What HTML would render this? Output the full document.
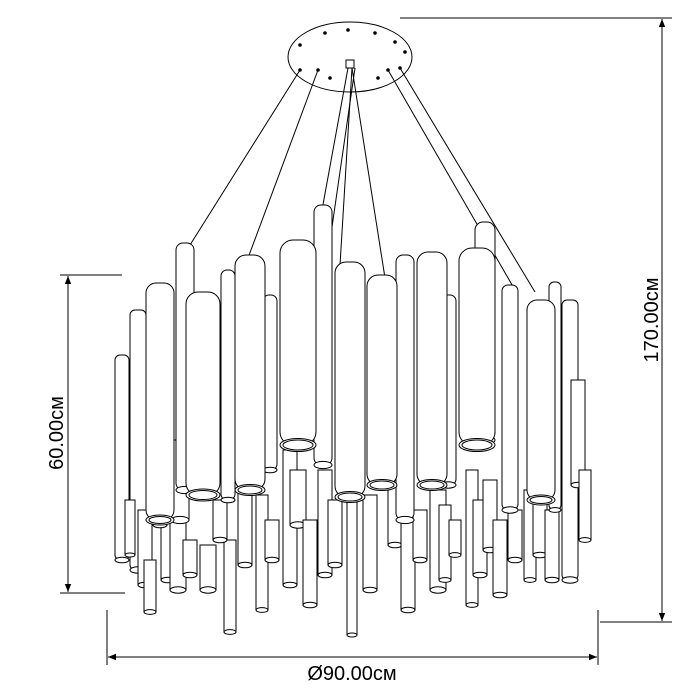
<!DOCTYPE html>
<html><head><meta charset="utf-8"><style>html,body{margin:0;background:#fff}svg{display:block}</style></head><body>
<svg width="700" height="700" viewBox="0 0 700 700" xmlns="http://www.w3.org/2000/svg" font-family="Liberation Sans, sans-serif">
<defs>
<marker id="a" viewBox="0 0 10 10" refX="10" refY="5" markerWidth="8" markerHeight="8" orient="auto-start-reverse"><path d="M0,1 L10,5 L0,9 z" fill="#000"/></marker>
</defs>
<rect width="700" height="700" fill="#fff"/>
<g stroke="#000" stroke-width="1" fill="none">
<ellipse cx="350" cy="57" rx="62" ry="35" fill="#fff"/>
<g fill="#000" stroke="none">
<circle cx="325" cy="33" r="1.8"/><circle cx="348" cy="30" r="1.8"/><circle cx="375" cy="33" r="1.8"/>
<circle cx="300" cy="45" r="1.8"/><circle cx="395" cy="42" r="1.8"/><circle cx="300" cy="70" r="1.8"/>
<circle cx="318" cy="70" r="1.8"/><circle cx="388" cy="70" r="1.8"/><circle cx="400" cy="68" r="1.8"/>
<circle cx="330" cy="78" r="1.8"/><circle cx="378" cy="78" r="1.8"/><circle cx="405" cy="52" r="1.8"/>
</g>
<rect x="346" y="60" width="8" height="8" fill="#fff"/>
<line x1="300" y1="70" x2="190" y2="245"/>
<line x1="318" y1="70" x2="248" y2="258"/>
<line x1="348" y1="68" x2="322" y2="210"/>
<line x1="352" y1="68" x2="340" y2="265"/>
<line x1="355" y1="68" x2="320" y2="310"/>
<line x1="388" y1="70" x2="515" y2="290"/>
<line x1="400" y1="68" x2="535" y2="292"/>
<line x1="352" y1="68" x2="385" y2="278"/>
<g fill="#fff">
<rect x="115" y="355" width="14" height="205" rx="5"/><ellipse cx="122" cy="560" rx="7" ry="2.8"/>
<rect x="130" y="310" width="16" height="260" rx="5"/><ellipse cx="138" cy="570" rx="8" ry="3.2"/>
<rect x="125" y="500" width="10" height="55"/><ellipse cx="130" cy="555" rx="5" ry="2"/>
<rect x="138" y="510" width="14" height="75"/><ellipse cx="145" cy="585" rx="7" ry="2.8"/>
<rect x="144" y="560" width="12" height="52"/><ellipse cx="150" cy="612" rx="6" ry="2.4"/>
<rect x="161" y="490" width="14" height="90"/><ellipse cx="168" cy="580" rx="7" ry="2.8"/>
<rect x="170" y="520" width="16" height="70"/><ellipse cx="178" cy="590" rx="8" ry="3.2"/>
<rect x="183" y="540" width="14" height="35"/><ellipse cx="190" cy="575" rx="7" ry="2.8"/>
<rect x="200" y="545" width="16" height="45"/><ellipse cx="208" cy="590" rx="8" ry="3.2"/>
<rect x="224" y="540" width="12" height="92"/><ellipse cx="230" cy="632" rx="6" ry="2.4"/>
<rect x="213" y="500" width="14" height="40"/><ellipse cx="220" cy="540" rx="7" ry="2.8"/>
<rect x="238" y="490" width="14" height="75"/><ellipse cx="245" cy="565" rx="7" ry="2.8"/>
<rect x="256" y="495" width="12" height="115"/><ellipse cx="262" cy="610" rx="6" ry="2.4"/>
<rect x="265" y="520" width="14" height="40"/><ellipse cx="272" cy="560" rx="7" ry="2.8"/>
<rect x="283" y="450" width="14" height="135"/><ellipse cx="290" cy="585" rx="7" ry="2.8"/>
<rect x="290" y="470" width="16" height="55"/><ellipse cx="298" cy="525" rx="8" ry="3.2"/>
<rect x="303" y="520" width="14" height="85"/><ellipse cx="310" cy="605" rx="7" ry="2.8"/>
<rect x="318" y="470" width="14" height="105"/><ellipse cx="325" cy="575" rx="7" ry="2.8"/>
<rect x="328" y="500" width="14" height="65"/><ellipse cx="335" cy="565" rx="7" ry="2.8"/>
<rect x="347" y="500" width="10" height="135"/><ellipse cx="352" cy="635" rx="5" ry="2"/>
<rect x="363" y="495" width="14" height="95"/><ellipse cx="370" cy="590" rx="7" ry="2.8"/>
<rect x="388" y="480" width="14" height="65"/><ellipse cx="395" cy="545" rx="7" ry="2.8"/>
<rect x="401" y="520" width="14" height="90"/><ellipse cx="408" cy="610" rx="7" ry="2.8"/>
<rect x="413" y="510" width="14" height="50"/><ellipse cx="420" cy="560" rx="7" ry="2.8"/>
<rect x="430" y="490" width="16" height="100"/><ellipse cx="438" cy="590" rx="8" ry="3.2"/>
<rect x="439" y="505" width="12" height="75"/><ellipse cx="445" cy="580" rx="6" ry="2.4"/>
<rect x="449" y="520" width="12" height="35"/><ellipse cx="455" cy="555" rx="6" ry="2.4"/>
<rect x="466" y="470" width="12" height="135"/><ellipse cx="472" cy="605" rx="6" ry="2.4"/>
<rect x="473" y="500" width="14" height="75"/><ellipse cx="480" cy="575" rx="7" ry="2.8"/>
<rect x="483" y="480" width="14" height="70"/><ellipse cx="490" cy="550" rx="7" ry="2.8"/>
<rect x="493" y="520" width="14" height="75"/><ellipse cx="500" cy="595" rx="7" ry="2.8"/>
<rect x="508" y="510" width="14" height="50"/><ellipse cx="515" cy="560" rx="7" ry="2.8"/>
<rect x="524" y="490" width="12" height="90"/><ellipse cx="530" cy="580" rx="6" ry="2.4"/>
<rect x="533" y="500" width="14" height="55"/><ellipse cx="540" cy="555" rx="7" ry="2.8"/>
<rect x="545" y="510" width="14" height="70"/><ellipse cx="552" cy="580" rx="7" ry="2.8"/>
<rect x="562" y="300" width="16" height="280" rx="5"/><ellipse cx="570" cy="580" rx="8" ry="3.2"/>
<rect x="571" y="380" width="14" height="105"/><ellipse cx="578" cy="485" rx="7" ry="2.8"/>
<rect x="579" y="470" width="12" height="70"/><ellipse cx="585" cy="540" rx="6" ry="2.4"/>
<rect x="153" y="470" width="14" height="55"/><ellipse cx="160" cy="525" rx="7" ry="2.8"/>
<rect x="171" y="440" width="18" height="80"/><ellipse cx="180" cy="520" rx="9" ry="3.6"/>
<rect x="549" y="282" width="12" height="228" rx="5"/><ellipse cx="555" cy="510" rx="6" ry="2.4"/>
<rect x="176" y="243" width="18" height="247" rx="7"/><ellipse cx="185" cy="490" rx="9" ry="3.6"/>
<rect x="221" y="270" width="14" height="230" rx="6"/><ellipse cx="228" cy="500" rx="7" ry="2.8"/>
<rect x="396" y="255" width="18" height="265" rx="7"/><ellipse cx="405" cy="520" rx="9" ry="3.6"/>
<rect x="475" y="222" width="20" height="218" rx="8"/><ellipse cx="485" cy="440" rx="10" ry="4"/>
<rect x="314" y="205" width="18" height="260" rx="7"/><ellipse cx="323" cy="465" rx="9" ry="3.6"/>
<rect x="263" y="295" width="14" height="175" rx="6"/><ellipse cx="270" cy="470" rx="7" ry="2.8"/>
<rect x="440" y="295" width="16" height="190" rx="6"/><ellipse cx="448" cy="485" rx="8" ry="3.2"/>
<rect x="502" y="285" width="16" height="225" rx="6"/><ellipse cx="510" cy="510" rx="8" ry="3.2"/>
<rect x="146" y="283" width="28" height="237" rx="10"/><ellipse cx="160" cy="520" rx="14" ry="5"/><ellipse cx="160" cy="520" rx="11" ry="3.5"/>
<rect x="186" y="292" width="34" height="203" rx="12"/><ellipse cx="203" cy="495" rx="17" ry="6"/><ellipse cx="203" cy="495" rx="14" ry="4.5"/>
<rect x="235" y="255" width="30" height="235" rx="11"/><ellipse cx="250" cy="490" rx="15" ry="5.5"/><ellipse cx="250" cy="490" rx="12" ry="4"/>
<rect x="280" y="240" width="36" height="205" rx="13"/><ellipse cx="298" cy="445" rx="18" ry="6.5"/><ellipse cx="298" cy="445" rx="15" ry="5"/>
<rect x="335" y="262" width="30" height="235" rx="11"/><ellipse cx="350" cy="497" rx="15" ry="5.5"/><ellipse cx="350" cy="497" rx="12" ry="4"/>
<rect x="367" y="275" width="30" height="210" rx="11"/><ellipse cx="382" cy="485" rx="15" ry="5.5"/><ellipse cx="382" cy="485" rx="12" ry="4"/>
<rect x="417" y="252" width="30" height="233" rx="11"/><ellipse cx="432" cy="485" rx="15" ry="5.5"/><ellipse cx="432" cy="485" rx="12" ry="4"/>
<rect x="459" y="248" width="36" height="197" rx="13"/><ellipse cx="477" cy="445" rx="18" ry="6.5"/><ellipse cx="477" cy="445" rx="15" ry="5"/>
<rect x="527" y="300" width="28" height="200" rx="10"/><ellipse cx="541" cy="500" rx="14" ry="5"/><ellipse cx="541" cy="500" rx="11" ry="3.5"/>
</g>
<line x1="400" y1="18" x2="672" y2="18"/>
<line x1="600" y1="622" x2="672" y2="622"/>
<line x1="662" y1="19" x2="662" y2="621" marker-start="url(#a)" marker-end="url(#a)"/>
<line x1="60" y1="275" x2="122" y2="275"/>
<line x1="60" y1="593" x2="125" y2="593"/>
<line x1="68" y1="276" x2="68" y2="592" marker-start="url(#a)" marker-end="url(#a)"/>
<line x1="107" y1="610" x2="107" y2="665"/>
<line x1="598" y1="610" x2="598" y2="665"/>
<line x1="108" y1="657" x2="597" y2="657" marker-start="url(#a)" marker-end="url(#a)"/>
</g>
<text x="352" y="680" font-size="20" text-anchor="middle">Ø90.00см</text>
<text transform="translate(658,320) rotate(-90)" font-size="20" text-anchor="middle">170.00см</text>
<text transform="translate(63,433) rotate(-90)" font-size="20" text-anchor="middle">60.00см</text>
</svg>
</body></html>
